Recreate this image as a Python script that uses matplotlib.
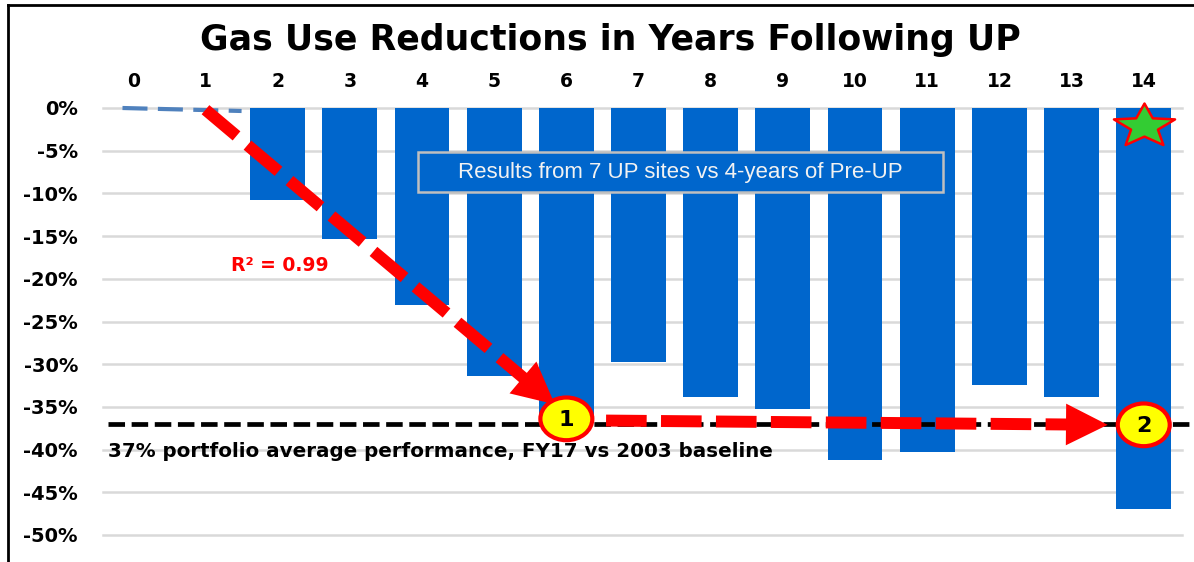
import matplotlib
matplotlib.use('Agg')
import matplotlib.pyplot as plt
from matplotlib.patches import Ellipse, Rectangle, FancyArrowPatch
from matplotlib.lines import Line2D
from matplotlib.path import Path
import numpy as np

plt.rcParams['font.family'] = ['DejaVu Sans']

# data
years = list(range(15))
reductions = [0, 0, -10.8, -15.3, -23.1, -31.4, -36.1, -29.7, -33.8, -35.2,
              -41.2, -40.3, -32.4, -33.8, -47.0]
y_ticks = [0, -5, -10, -15, -20, -25, -30, -35, -40, -45, -50]
portfolio_avg = -37
trend_x = [-0.15, 1.5]
trend_y = [0, -0.35]
arrow1_start = (1.0, -0.2)
arrow1_end = (5.84, -34.7)
arrow2_start = (6.55, -36.6)
arrow2_end = (13.5, -37.1)
marker1 = (6.0, -36.4)
marker2 = (14.0, -37.1)
star_pt = (14.0, -2.1)
box_x = (3.95, 11.22)
box_y = (-9.84, -5.15)

blue = '#0066CC'
red = '#FF0000'

fig = plt.figure(figsize=(11.94, 5.62), dpi=100)
ax = fig.add_axes([103/1194, 1-535/562, (1182-103)/1194, (535-108)/562])

ax.bar(years, reductions, width=0.76, color=blue, zorder=2)
ax.set_xlim(-0.42, 14.53)
ax.set_ylim(-50, 0)

ax.set_yticks(y_ticks)
ax.set_yticklabels([f'{v}%' for v in y_ticks], fontsize=14, fontweight='bold')
ax.set_xticks(years)
ax.set_xticklabels([str(v) for v in years], fontsize=13.5, fontweight='bold')
ax.xaxis.tick_top()
ax.tick_params(axis='y', length=0, pad=18)
ax.tick_params(axis='x', length=0, pad=12)
ax.grid(axis='y', color='#D9D9D9', linewidth=1.8, zorder=0)
ax.set_axisbelow(True)
for gl in ax.get_ygridlines():
    gl.set_clip_on(False)
for s in ax.spines.values():
    s.set_visible(False)

# blue trend line for years 0-1
ax.plot(trend_x, trend_y, color='#4F81BD', lw=3, dashes=(6, 2.5),
        dash_capstyle='butt', zorder=3, clip_on=False)

# black portfolio average line
ax.plot([-0.35, 14.65], [portfolio_avg, portfolio_avg], color='black', lw=3.4,
        dashes=(3.5, 1.4), dash_capstyle='butt', zorder=3, clip_on=False)
ax.text(-0.35, -40.2, '37% portfolio average performance, FY17 vs 2003 baseline',
        fontsize=14.3, fontweight='bold', va='center', ha='left', zorder=5)

# red dashed arrows: dashed shaft plus a solid head
def red_arrow(p0, p1):
    p0 = np.array(p0)
    p1 = np.array(p1)
    d0 = ax.transData.transform(p0)
    d1 = ax.transData.transform(p1)
    vec = d1 - d0
    L = np.hypot(*vec)
    base = d1 - vec / L * 40
    base_data = ax.transData.inverted().transform(base)
    ax.plot([p0[0], base_data[0]], [p0[1], base_data[1]], color=red, lw=8.6,
            dashes=(3.4, 1.2), dash_capstyle='butt', zorder=4, clip_on=False)
    back = ax.transData.inverted().transform(d1 - vec / L * 45)
    arr = FancyArrowPatch(tuple(back), tuple(p1), arrowstyle='-|>,head_length=0.6,head_width=0.3',
                          mutation_scale=50, color=red, lw=0, shrinkA=0, shrinkB=0,
                          zorder=4, clip_on=False)
    ax.add_patch(arr)

red_arrow(arrow1_start, arrow1_end)
red_arrow(arrow2_start, arrow2_end)

# numbered circles
for (cx, cy), lab in [(marker1, '1'), (marker2, '2')]:
    ax.add_patch(Ellipse((cx, cy), 0.72, 5.0, facecolor='#FFFF00', edgecolor=red,
                         lw=3, zorder=6, clip_on=False))
    ax.text(cx, cy - 0.1, lab, fontsize=16, fontweight='bold', ha='center', va='center', zorder=7)

# star (a little wider than tall, like the reference)
ang = np.pi / 2 + np.arange(11) * np.pi / 5
rad = np.where(np.arange(11) % 2 == 0, 1.0, 0.44)
star_verts = np.column_stack([1.4 * rad * np.cos(ang), rad * np.sin(ang)])
star_marker = Path(star_verts, closed=True)
ax.plot(*star_pt, marker=star_marker, markersize=44, markerfacecolor='#33CC33',
        markeredgecolor=red, markeredgewidth=1.8, zorder=6, clip_on=False)

ax.text(1.35, -18.4, 'R² = 0.99', color=red, fontsize=13.5, fontweight='bold',
        ha='left', va='center', zorder=5)

ax.add_patch(Rectangle((box_x[0], box_y[0]), box_x[1] - box_x[0], box_y[1] - box_y[0],
                       facecolor=blue, edgecolor='#BFBFBF', lw=1.8, zorder=5))
ax.text(sum(box_x) / 2, sum(box_y) / 2, 'Results from 7 UP sites vs 4-years of Pre-UP',
        color='#F2F2F2', fontsize=16, ha='center', va='center', zorder=6,
        family='Liberation Sans')

fig.text(0.511, 1-40/562, 'Gas Use Reductions in Years Following UP', fontsize=25,
         fontweight='bold', ha='center', va='center')

# figure border lines
fig.add_artist(Line2D([8/1194, 8/1194], [0, 1-5/562], color='black', lw=2))
fig.add_artist(Line2D([8/1194, 1], [1-5/562, 1-5/562], color='black', lw=2))

fig.savefig('out.png', dpi=100)
